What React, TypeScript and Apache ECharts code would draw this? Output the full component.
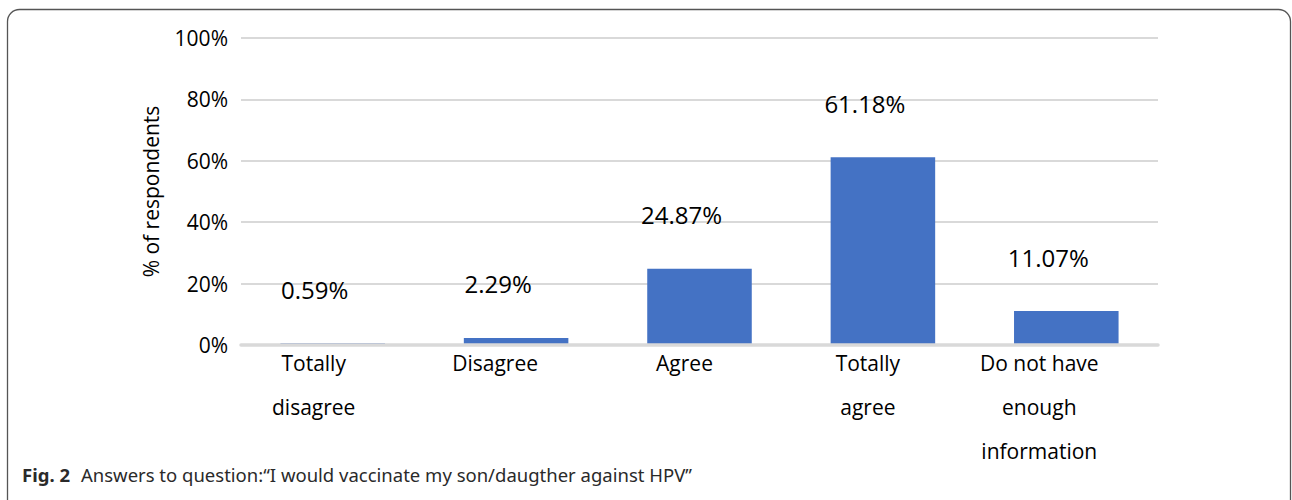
import React, { useEffect, useRef } from "react";
import * as echarts from "echarts";

const categories = ["Totally\ndisagree", "Disagree", "Agree", "Totally\nagree", "Do not have\nenough\ninformation"];
const labelShift = [38, 42, 30, 30, 54];
const values = [0.59, 2.29, 24.87, 61.18, 11.07];
const yTicks = [0, 20, 40, 60, 80, 100];
const yAxisTitle = "% of respondents";
const captionBold = "Fig. 2";
const captionText = "Answers to question:\u201cI would vaccinate my son/daugther against HPV\u201d";

export default function App() {
  const ref = useRef<HTMLDivElement>(null);
  useEffect(() => {
    if (!ref.current) return;
    const chart = echarts.init(ref.current, null, { renderer: "svg" });
    const font = "'Open Sans', sans-serif";
    const capFont = "'Liberation Sans Narrow', 'Noto Sans', sans-serif";
    chart.setOption({
      animation: false,
      backgroundColor: "#fff",
      grid: { left: 241, right: 134, top: 38, bottom: 155, containLabel: false },
      xAxis: {
        type: "category",
        z: 3,
        data: categories.map((c, i) => ({
          value: c,
          textStyle: { padding: [0, labelShift[i], 0, 0] },
        })),
        axisLine: { show: true, lineStyle: { color: "#d9d9d9", width: 3.5 } },
        axisTick: { show: false },
        axisLabel: {
          color: "#000",
          fontFamily: font,
          fontSize: 21,
          lineHeight: 44,
          margin: -4,
          interval: 0,
        },
      },
      yAxis: {
        type: "value",
        min: yTicks[0],
        max: yTicks[yTicks.length - 1],
        interval: 20,
        name: yAxisTitle,
        nameLocation: "middle",
        nameGap: 80,
        nameTextStyle: { color: "#000", fontFamily: font, fontSize: 21 },
        axisLine: { show: false },
        axisTick: { show: false },
        axisLabel: {
          color: "#000",
          fontFamily: font,
          fontSize: 21,
          margin: 13,
          padding: [0, 0, 8, 0],
          formatter: (v: number) => `${v}%`,
        },
        splitLine: { lineStyle: { color: "#d9d9d9", width: 2 } },
      },
      series: [
        {
          type: "bar",
          data: values,
          barWidth: "57%",
          itemStyle: { color: "#4472c4" },
          label: {
            show: true,
            position: "top",
            distance: 42,
            offset: [-18, 0],
            color: "#000",
            fontFamily: font,
            fontSize: 24,
            formatter: (p: any) => `${p.value.toFixed(2)}%`,
          },
        },
      ],
      graphic: [
        {
          type: "rect",
          shape: { x: 7.5, y: 9.5, width: 1283, height: 600, r: 12 },
          style: { fill: "none", stroke: "#555", lineWidth: 1.3 },
          silent: true,
        },
        {
          type: "text",
          x: 22,
          y: 474,
          style: {
            text: `{b|${captionBold}}{g|}{n|${captionText}}`,
            verticalAlign: "middle",
            rich: {
              b: { fontFamily: capFont, fontWeight: "bold", fontSize: 18.5, fill: "#2a2a2a" },
              g: { width: 11 },
              n: { fontFamily: capFont, fontSize: 18.5, fill: "#2a2a2a" },
            },
          },
        },
      ],
    });
    return () => chart.dispose();
  }, []);
  return (
    <div
      ref={ref}
      style={{ position: "fixed", left: 0, top: 0, width: 1292, height: 500 }}
    />
  );
}
